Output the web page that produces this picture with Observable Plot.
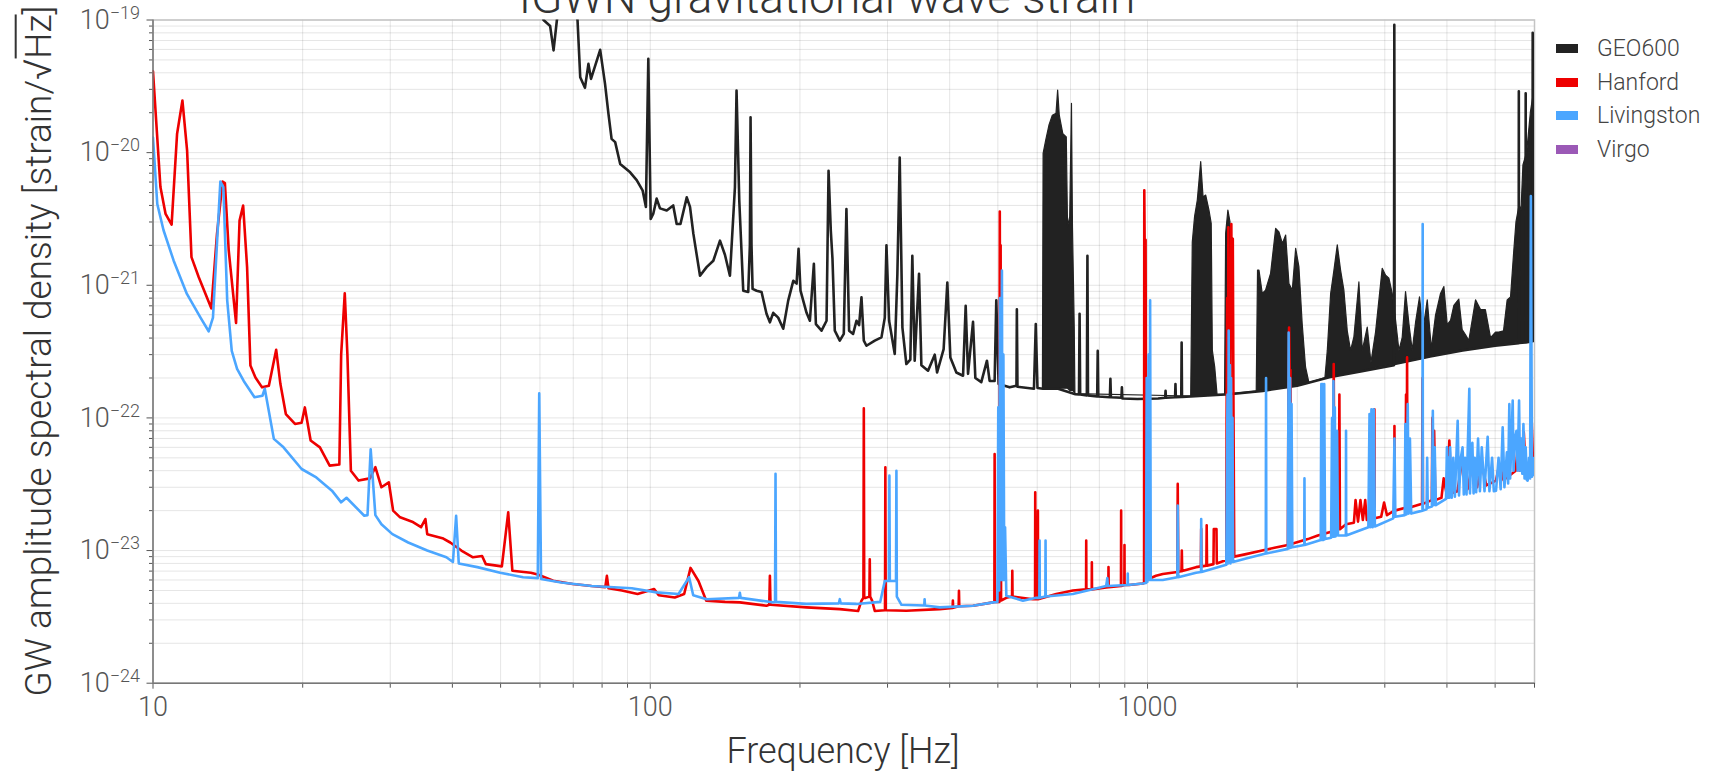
<!DOCTYPE html>
<html>
<head>
<meta charset="utf-8">
<script src="https://cdn.jsdelivr.net/npm/d3@7"></script>
<script src="https://cdn.jsdelivr.net/npm/@observablehq/plot@0.6"></script>
<style>
  html, body { margin: 0; padding: 0; background: #fff; }
  #wrap { position: relative; width: 1713px; height: 777px; overflow: hidden; font-family: Roboto, "Noto Sans", sans-serif; }
  #title { position: absolute; left: 327px; width: 1000px; top: -26px; text-align: center; font-size: 46px; font-weight: 300; color: #333; line-height: 1; white-space: nowrap; }
  #ytitle { position: absolute; left: 38px; top: 351px; transform: translate(-50%, -50%) rotate(-90deg); font-size: 37px; font-weight: 300; color: #333; white-space: nowrap; line-height: 1.2; }
  #xtitle { position: absolute; left: 843px; top: 752px; transform: translate(-50%, -50%); font-size: 36px; font-weight: 300; color: #333; white-space: nowrap; line-height: 1.2; }
  .rad { font-size: 1.05em; }
  .ov { border-top: 2px solid #333; padding-top: 0px; }
  #legend { position: absolute; left: 1556px; top: 32px; font-size: 23px; font-weight: 300; color: #444; }
  #legend .row { height: 33.5px; display: flex; align-items: center; }
  #legend .sw { width: 22px; height: 9px; margin-right: 19px; }
</style>
</head>
<body>
<div id="wrap">
  <div id="chart"></div>
  <div id="title">IGWN gravitational wave strain</div>
  <div id="ytitle">GW amplitude spectral density [strain/<span class="rad">√</span><span class="ov">Hz</span>]</div>
  <div id="xtitle">Frequency [Hz]</div>
  <div id="legend"></div>
</div>
<script>
// ---------------- data (frequency [Hz], amplitude spectral density) ----------------
const detectors = ["GEO600", "Hanford", "Livingston", "Virgo"];
const colors = ["#222222", "#ee0000", "#4ba6ff", "#9b59b6"];

const xMajorTicks = [10, 100, 1000];
const xMinorTicks = [20, 30, 40, 50, 60, 70, 80, 90, 200, 300, 400, 500, 600, 700, 800, 900, 2000, 3000, 4000, 5000, 6000];
const yMajorTicks = [1e-24, 1e-23, 1e-22, 1e-21, 1e-20, 1e-19];
const yMinorMultipliers = [2, 3, 4, 5, 6, 7, 8, 9];

const geoTrace = [
[50,4e-19],[60.5,1.3e-19],[61.0,1.0e-19],[62.9,9.0e-20],[63.9,5.9e-20],[64.9,1.0e-19],[66,1.5e-19],[70,1.5e-19],[71.4,1.0e-19],[72.3,3.7e-20],[73.9,3.08e-20],[75.1,4.67e-20],[76.0,3.6e-20],[79.3,5.96e-20],[81.1,3.3e-20],[82.4,1.96e-20],[83.6,1.27e-20],[85.0,1.2e-20],[87.0,8.2e-21],[91.1,7.1e-21],[93.9,6.2e-21],[96.5,5.2e-21],[98.0,3.9e-21],[99.1,5.1e-20],[100.2,3.16e-21],[101.4,3.46e-21],[103.0,4.5e-21],[104.6,3.8e-21],[107.9,3.66e-21],[111.2,4.0e-21],[113,2.9e-21],[115,2.9e-21],[118.4,4.6e-21],[120.2,3.9e-21],[122.1,2.44e-21],[125.9,1.18e-21],[129.8,1.37e-21],[133.9,1.53e-21],[138.1,2.17e-21],[141.3,1.7e-21],[144.6,1.18e-21],[148,5.5e-21],[149.1,2.94e-20],[151,4.35e-21],[153.8,9.1e-22],[157.4,8.9e-22],[158.6,2e-21],[159.1,1.85e-20],[159.8,2e-21],[160.6,9.4e-22],[163.6,9.1e-22],[167.4,8.9e-22],[171.3,6.1e-22],[174,5.26e-22],[176.7,6.2e-22],[180.8,5.7e-22],[185.1,4.7e-22],[189.4,7.66e-22],[193.9,1.08e-21],[196.9,1.03e-21],[198.7,1.88e-21],[200.5,9.1e-22],[206.2,6.2e-22],[209.4,5.4e-22],[213.3,1.45e-21],[215.3,5.1e-22],[221,4.55e-22],[226.2,5.4e-22],[228.3,7.3e-21],[230.7,2.58e-21],[232.5,1.58e-21],[235,4.55e-22],[240.5,3.83e-22],[245,4.3e-22],[248,3.76e-21],[251.1,4.55e-22],[255.8,4.3e-22],[259.8,5.4e-22],[263,5.0e-22],[265.9,8.1e-22],[268.8,3.83e-22],[272.1,3.5e-22],[282.8,3.83e-22],[291.7,4.05e-22],[296.2,5.7e-22],[298.5,2.0e-21],[302.2,5.4e-22],[310.2,3.03e-22],[314,1.22e-21],[317.4,9.2e-21],[321.4,4.8e-22],[327.3,2.55e-22],[333.4,2.75e-22],[336.5,1.67e-21],[340.2,2.7e-22],[347.1,1.22e-21],[350.9,2.5e-22],[361.9,2.27e-22],[373.3,3.0e-22],[377.4,2.2e-22],[389,3.3e-22],[395.7,1.05e-21],[401.3,2.85e-22],[412.6,2.2e-22],[425.6,2.08e-22],[430.8,7.0e-22],[435.5,2.15e-22],[445.7,5.3e-22],[450.5,2.0e-22],[463.1,1.86e-22],[475.4,2.7e-22],[481.3,1.9e-22],[492.6,1.9e-22],[496.4,7.7e-22],[501.8,1.8e-22],[528,1.7e-22],[545,1.75e-22],[546,6.6e-22],[547.5,1.72e-22],[591,1.66e-22],[596,5.1e-22],[600.7,1.68e-22],[616,1.66e-22],[661,1.66e-22],[716,1.51e-22],[728,1.5e-22],[730,6.1e-22],[732,1.5e-22],[755,1.48e-22],[757,1.67e-21],[759,1.48e-22],[792,1.45e-22],[794,3.2e-22],[796,1.45e-22],[840,1.43e-22],[842,1.97e-22],[844,1.43e-22],[886,1.42e-22],[888,1.7e-22],[890,1.4e-22],[954,1.39e-22],[1050,1.4e-22],[1085,1.42e-22],[1087,1.6e-22],[1089,1.42e-22],[1136,1.43e-22],[1138,1.8e-22],[1140,1.43e-22],[1169,1.44e-22],[1171,3.7e-22],[1173,1.44e-22],[1222,1.45e-22],[1460,1.51e-22],[1705,1.6e-22],[2000,1.75e-22],[2321,2.03e-22],[2700,2.25e-22],[3130,2.5e-22],[3135,9.2e-20],[3140,2.55e-22],[3700,2.9e-22],[4302,3.22e-22],[5000,3.5e-22],[5575,3.66e-22],[5580,2.9e-20],[5585,3.67e-22],[5755,3.7e-22],[5760,2.8e-20],[5765,3.7e-22],[5945,3.78e-22],[5950,8e-20],[5955,3.8e-22],[6000,3.8e-22]
];

// dense line combs: [frequency, lower envelope, upper envelope]
const geoComb = [
[616,1.66e-22,1.66e-22],[618,1.66e-22,9.8e-21],[625.5,1.66e-22,1.23e-20],[635,1.66e-22,1.6e-20],[645,1.66e-22,1.9e-20],[656,1.66e-22,1.96e-20],[661,1.66e-22,2.94e-20],[666,1.66e-22,1.9e-20],[677,1.66e-22,1.38e-20],[688,1.66e-22,1.3e-20],[692,1.66e-22,2.74e-21],[699,1.6e-22,3.26e-21],[704.7,1.6e-22,2.33e-20],[708,1.6e-22,2.7e-21],[713.8,1.55e-22,4.8e-22],[716,1.51e-22,1.51e-22],
[1224,1.45e-22,1.45e-22],[1233,1.45e-22,2.1e-21],[1246,1.45e-22,3.26e-21],[1262,1.45e-22,4.35e-21],[1282,1.46e-22,8.5e-21],[1296,1.46e-22,4.6e-21],[1312,1.47e-22,4.75e-21],[1332,1.47e-22,3.66e-21],[1346,1.48e-22,2.9e-21],[1353,1.48e-22,3.2e-22],[1368,1.48e-22,2.4e-22],[1383,1.49e-22,1.49e-22],
[1432,1.5e-22,1.5e-22],[1439,1.5e-22,2.44e-21],[1454,1.5e-22,3.66e-21],[1468,1.51e-22,3.0e-21],[1474,1.51e-22,1.51e-22],
[1658,1.58e-22,1.58e-22],[1668,1.58e-22,1.29e-21],[1679,1.59e-22,1.29e-21],[1705,1.6e-22,8.6e-22],[1731,1.61e-22,9.1e-22],[1772,1.63e-22,1.22e-21],[1814,1.65e-22,2.66e-21],[1842,1.66e-22,2.5e-21],[1871,1.67e-22,2.05e-21],[1900,1.7e-22,2.37e-21],[1929,1.71e-22,1.02e-21],[1959,1.73e-22,9.1e-22],[1990,1.75e-22,1.88e-21],[2020,1.77e-22,1.37e-21],[2051,1.79e-22,5.1e-22],[2083,1.81e-22,2.4e-22],[2116,1.83e-22,1.83e-22],
[2279,2.0e-22,2.0e-22],[2304,2.02e-22,3.2e-22],[2340,2.04e-22,8.6e-22],[2376,2.06e-22,1.29e-21],[2413,2.08e-22,2.0e-21],[2450,2.1e-22,1.29e-21],[2488,2.12e-22,9.1e-22],[2527,2.14e-22,4.5e-22],[2566,2.16e-22,3.2e-22],[2606,2.18e-22,4.05e-22],[2667,2.22e-22,1.05e-21],[2709,2.25e-22,3.2e-22],[2772,2.3e-22,4.8e-22],[2820,2.33e-22,2.6e-22],[2881,2.37e-22,4.4e-22],[2926,2.4e-22,7.7e-22],[2971,2.42e-22,1.33e-21],[3018,2.45e-22,1.18e-21],[3065,2.48e-22,1.12e-21],[3112,2.5e-22,8.6e-22],[3161,2.55e-22,5.4e-22],[3210,2.58e-22,3.2e-22],[3259,2.6e-22,4.0e-22],[3310,2.63e-22,8.9e-22],[3362,2.66e-22,5.1e-22],[3414,2.7e-22,3.2e-22],[3467,2.73e-22,5.2e-22],[3531,2.77e-22,8.1e-22],[3590,2.8e-22,4.6e-22],[3660,2.85e-22,7.7e-22],[3730,2.9e-22,3.3e-22],[3803,2.95e-22,5.9e-22],[3892,3.0e-22,8.6e-22],[3953,3.04e-22,9.7e-22],[4015,3.08e-22,5.0e-22],[4077,3.12e-22,5.4e-22],[4140,3.15e-22,7.0e-22],[4236,3.2e-22,7.8e-22],[4302,3.22e-22,4.6e-22],[4370,3.25e-22,4.2e-22],[4437,3.28e-22,3.8e-22],[4577,3.34e-22,7.7e-22],[4684,3.38e-22,6.5e-22],[4790,3.42e-22,6.5e-22],[4906,3.46e-22,4.0e-22],[5021,3.5e-22,4.4e-22],[5100,3.53e-22,4.4e-22],[5210,3.57e-22,4.5e-22],[5299,3.6e-22,7.7e-22],[5382,3.62e-22,8.1e-22],[5465,3.64e-22,1.83e-21],[5520,3.65e-22,3.0e-21],[5600,3.67e-22,4.0e-21],[5650,3.68e-22,3.66e-21],[5700,3.7e-22,8e-21],[5800,3.72e-22,1.0e-20],[5900,3.76e-22,2.0e-20],[6000,3.8e-22,3.0e-20]
];

const hanfordTrace = [
[10,4.1e-20],[10.35,5.5e-21],[10.6,3.45e-21],[10.9,2.87e-21],[11.18,1.39e-20],[11.46,2.47e-20],[11.71,1.04e-20],[11.95,1.63e-21],[12.36,1.15e-21],[13.1,6.7e-22],[13.45,2.44e-21],[13.8,6.05e-21],[13.95,5.9e-21],[14.2,1.83e-21],[14.69,5.2e-22],[14.93,3.07e-21],[15.18,3.99e-21],[15.46,1.37e-21],[15.7,2.48e-22],[16.07,2.02e-22],[16.57,1.7e-22],[17.1,1.75e-22],[17.69,3.26e-22],[18.04,1.8e-22],[18.5,1.07e-22],[19.3,9.0e-23],[19.9,9.2e-23],[20.2,1.2e-22],[20.75,6.75e-23],[21.66,6.0e-23],[22.66,4.37e-23],[23.7,4.45e-23],[23.9,3e-22],[24.3,8.7e-22],[24.6,3e-22],[25.0,4.0e-23],[25.9,3.37e-23],[27.3,3.5e-23],[28.0,4.25e-23],[28.8,3.0e-23],[29.8,3.27e-23],[30.4,2.0e-23],[31.4,1.78e-23],[33.2,1.65e-23],[34.6,1.5e-23],[35.3,1.73e-23],[35.6,1.33e-23],[38.2,1.24e-23],[39.6,1.15e-23],[41.7,1.0e-23],[44.0,8.9e-24],[45.9,9.1e-24],[46.7,7.9e-24],[50.3,7.6e-24],[51.8,1.94e-23],[52.8,7.05e-24],[57.5,6.8e-24],[59.4,6.6e-24],[63.8,5.93e-24],[69.8,5.6e-24],[76.2,5.4e-24],[81.2,5.3e-24],[81.8,6.44e-24],[82.4,5.2e-24],[87.7,5.0e-24],[94.3,4.7e-24],[101.8,5.13e-24],[104,4.6e-24],[112,4.43e-24],[117,4.7e-24],[120.5,7.4e-24],[125,5.9e-24],[129.6,4.18e-24],[141.4,4.1e-24],[151.4,4.07e-24],[171.3,3.84e-24],[173.5,3.9e-24],[174,6.45e-24],[174.5,3.9e-24],[206.2,3.73e-24],[240.5,3.62e-24],[261.8,3.5e-24],[265.9,4.19e-24],[268.3,4.4e-24],[268.8,1.18e-22],[269.3,4.4e-24],[271.3,4.4e-24],[275.8,4.5e-24],[276.3,8.6e-24],[276.8,4.5e-24],[279.3,4.19e-24],[282.8,3.5e-24],[296.5,3.55e-24],[297,4.25e-23],[297.5,3.55e-24],[327.3,3.52e-24],[382,3.62e-24],[405.5,3.7e-24],[406,4.2e-24],[406.5,3.7e-24],[417,3.8e-24],[417.6,4.98e-24],[418.2,3.8e-24],[445.6,3.84e-24],[488.8,4.07e-24],[492,4.1e-24],[492.6,5.35e-23],[493.2,4.1e-24],[503.5,4.1e-24],[504.5,3.6e-21],[505.5,1.5e-22],[506.5,2e-21],[507.5,4.2e-24],[520,4.4e-24],[534,4.5e-24],[534.6,7.05e-24],[535.2,4.5e-24],[588,4.3e-24],[594,4.3e-24],[594.5,2.75e-23],[595,4.3e-24],[601.4,4.3e-24],[601.9,2.0e-23],[602.4,4.3e-24],[655.2,4.7e-24],[707.6,5.0e-24],[752.2,5.1e-24],[752.8,1.19e-23],[753.4,5.1e-24],[772.2,5.1e-24],[772.7,8.15e-24],[773.2,5.1e-24],[825.7,5.27e-24],[834,5.3e-24],[834.6,7.5e-24],[835.2,5.3e-24],[884.3,5.4e-24],[884.9,2.0e-23],[885.5,5.4e-24],[898.2,5.5e-24],[898.7,1.1e-23],[899.2,5.5e-24],[919.5,5.5e-24],[978,5.65e-24],[984,5.7e-24],[985,5.2e-21],[988,1.0e-21],[991,2.2e-21],[994,6e-24],
[1040,6.45e-24],[1073,6.65e-24],[1148,6.9e-24],[1150,3.18e-23],[1153,6.9e-24],[1170,7.0e-24],[1172,1.0e-23],[1174,7.0e-24],[1252,7.5e-24],[1280,7.6e-24],[1282,1.46e-23],[1284,7.6e-24],[1313,7.7e-24],[1315,1.55e-23],[1317,7.7e-24],[1357,7.9e-24],[1359,1.45e-23],[1368,1.45e-23],[1376,1.45e-23],[1378,8.0e-24],[1440,8.5e-24],[1442,9e-23],[1446,8e-22],[1450,1e-22],[1454,2.74e-21],[1458,3e-22],[1463,1.5e-21],[1468,2e-22],[1474,2.9e-21],[1478,4e-22],[1484,2.24e-21],[1489,1e-22],[1494,9e-24],[1578,9.4e-24],[1700,1.0e-23],[1800,1.05e-23],[1915,1.1e-23],[1920,1.5e-22],[1926,4.8e-22],[1932,2e-22],[1938,2.3e-22],[1945,1.12e-23],[1990,1.15e-23],[2100,1.22e-23],[2200,1.3e-23],[2360,1.4e-23],[2368,2.55e-22],[2376,1.4e-23],[2425,1.45e-23],[2431,1.5e-22],[2437,1.45e-23],[2507,1.58e-23],[2600,1.62e-23],[2620,2.4e-23],[2650,1.65e-23],[2680,2.4e-23],[2710,1.7e-23],[2740,2.4e-23],[2760,1.7e-23],[2855,1.75e-23],[2859,1.16e-22],[2863,1.75e-23],[2950,1.8e-23],[2990,2.3e-23],[3030,1.85e-23],[3134,2.0e-23],[3137,8.7e-23],[3140,2.0e-23],[3300,2.1e-23],[3310,1.5e-22],[3320,2.1e-23],[3326,2.86e-22],[3332,2.1e-23],[3345,6e-23],[3355,2.1e-23],[3565,2.25e-23],[3572,2e-22],[3580,2.25e-23],[3730,2.4e-23],[3740,1.0e-22],[3750,2.4e-23],[3770,8e-23],[3790,2.4e-23],[3900,2.5e-23],[3940,3.5e-23],[4000,2.6e-23],[4045,6.75e-23],[4080,2.7e-23],[4200,2.8e-23],[4300,5e-23],[4400,2.9e-23],[4500,4.5e-23],[4600,3.0e-23],[4700,4.5e-23],[4800,3.1e-23],[5021,3.37e-23],[5100,4.5e-23],[5200,3.4e-23],[5500,4.0e-23],[5550,6e-23],[5600,4.0e-23],[5710,7.8e-23],[5760,4.1e-23],[5813,4.2e-23],[5880,4.4e-23],[5920,1.0e-22],[5960,4.5e-23],[6000,5e-23]
];

const livingstonTrace = [
[10,1.3e-20],[10.2,4.1e-21],[10.5,2.6e-21],[11.0,1.54e-21],[11.7,8.6e-22],[12.46,5.7e-22],[12.94,4.5e-22],[13.2,5.7e-22],[13.66,6.05e-21],[13.85,5.5e-21],[14.1,7.7e-22],[14.4,3.2e-22],[14.76,2.34e-22],[15.22,1.9e-22],[16.0,1.43e-22],[16.6,1.47e-22],[16.78,1.66e-22],[17.5,6.95e-23],[18.3,6.0e-23],[19.9,4.12e-23],[21.3,3.56e-23],[22.9,2.83e-23],[23.9,2.31e-23],[24.5,2.5e-23],[26.6,1.83e-23],[27.0,1.85e-23],[27.4,5.8e-23],[28.0,1.85e-23],[28.8,1.58e-23],[30.3,1.33e-23],[32.6,1.15e-23],[35.6,1.0e-23],[38.9,8.9e-24],[40.1,8.2e-24],[40.7,1.83e-23],[41.2,8.0e-24],[44.9,7.5e-24],[49.9,6.8e-24],[55.5,6.3e-24],[59.4,6.2e-24],[59.8,1.53e-22],[60.3,6.1e-24],[66.2,5.75e-24],[76.2,5.4e-24],[91.8,5.2e-24],[103,4.84e-24],[114,4.7e-24],[119.7,6.3e-24],[122,4.6e-24],[129.8,4.3e-24],[150.8,4.4e-24],[151.4,4.8e-24],[152,4.4e-24],[176.7,4.07e-24],[178.2,4.1e-24],[178.6,3.79e-23],[179,4.1e-24],[206,3.96e-24],[239.5,4.0e-24],[240.5,4.3e-24],[241.5,4.0e-24],[259.8,3.96e-24],[290,4.1e-24],[296.2,5.9e-24],[302,5.9e-24],[302.6,3.67e-23],[303.2,5.9e-24],[312,5.9e-24],[312.6,4.0e-23],[313.2,4.5e-24],[320,3.9e-24],[355.6,3.85e-24],[356.2,4.3e-24],[356.8,3.85e-24],[382,3.73e-24],[445.6,3.84e-24],[488.8,4.07e-24],[499,4.1e-24],[501,1.2e-22],[503,5e-24],[505,8e-22],[507,6e-24],[509.5,1.29e-21],[511,6e-24],[513,3e-22],[515,6e-24],[517,1.5e-23],[520,4.57e-24],[561.6,4.19e-24],[597.3,4.4e-24],[606,4.4e-24],[606.6,1.19e-23],[607.2,4.4e-24],[623,4.5e-24],[623.6,1.19e-23],[624.2,4.5e-24],[707.6,4.7e-24],[825.7,5.4e-24],[830,6.2e-24],[832,5.4e-24],[912,5.5e-24],[912.5,6.7e-24],[913,5.5e-24],[978,5.65e-24],[993,5.7e-24],[996,2e-22],[999,5.8e-24],[1005,3e-22],[1008,6e-24],[1012,7.7e-22],[1015,6e-24],[1020,6e-24],
[1073,6.0e-24],[1148,6.3e-24],[1150,2.18e-23],[1153,6.3e-24],[1252,6.8e-24],[1281,6.9e-24],[1282,1.73e-23],[1284,6.9e-24],[1440,7.8e-24],[1448,1.5e-22],[1452,8e-24],[1456,4.56e-22],[1460,9e-24],[1464,2.5e-22],[1468,8e-24],[1472,2e-22],[1476,8.2e-24],[1482,1.0e-22],[1486,8.2e-24],[1578,8.7e-24],[1729,9.5e-24],[1731,2.0e-22],[1733,9.5e-24],[1915,1.03e-23],[1922,4.4e-22],[1928,1.04e-23],[1935,2e-22],[1942,1.05e-23],[1948,1.27e-22],[1955,1.06e-23],[2066,1.1e-23],[2068,3.5e-23],[2070,1.1e-23],[2230,1.2e-23],[2236,1.8e-22],[2242,1.2e-23],[2250,1.8e-22],[2258,1.2e-23],[2266,1.8e-22],[2275,1.22e-23],[2340,1.25e-23],[2350,1.0e-22],[2360,1.27e-23],[2365,1.9e-22],[2372,1.27e-23],[2380,1.2e-22],[2390,1.28e-23],[2405,8e-23],[2415,1.3e-23],[2505,1.3e-23],[2507,8.0e-23],[2509,1.3e-23],[2780,1.5e-23],[2795,1.07e-22],[2805,1.5e-23],[2820,1.16e-22],[2835,1.5e-23],[2850,1.16e-22],[2865,1.52e-23],[3120,1.75e-23],[3137,7e-23],[3150,1.8e-23],[3290,1.85e-23],[3300,9e-23],[3315,1.87e-23],[3336,1.27e-22],[3350,1.9e-23],[3370,7e-23],[3390,1.9e-23],[3572,2.0e-23],[3575,2.9e-21],[3578,2.0e-23],[3640,2.05e-23],[3650,5e-23],[3660,2.1e-23],[3730,2.15e-23],[3747,1.13e-22],[3760,2.2e-23],[3780,6e-23],[3800,2.2e-23],[3983,2.45e-23],[4000,6e-23],[4015,2.5e-23],[4030,5e-23],[4045,2.5e-23],[4060,6e-23],[4090,2.5e-23],[4120,5e-23],[4150,2.55e-23],[4204,9.5e-23],[4230,2.6e-23],[4265,5e-23],[4300,6e-23],[4325,2.65e-23],[4350,5e-23],[4380,2.65e-23],[4437,1.66e-22],[4450,2.7e-23],[4475,5.5e-23],[4500,6.5e-23],[4525,2.7e-23],[4550,5e-23],[4580,2.75e-23],[4620,7e-23],[4660,2.8e-23],[4700,6e-23],[4760,2.8e-23],[4830,7.2e-23],[4870,2.8e-23],[4930,5e-23],[4970,2.8e-23],[5021,2.83e-23],[5080,5e-23],[5130,2.9e-23],[5178,8.5e-23],[5220,3e-23],[5280,5.5e-23],[5310,3.2e-23],[5340,1.27e-22],[5360,3.5e-23],[5400,8e-23],[5424,1.35e-22],[5445,4.0e-23],[5480,7e-23],[5520,8e-23],[5550,4e-23],[5586,1.35e-22],[5610,4e-23],[5640,7e-23],[5670,3.8e-23],[5700,9e-23],[5730,3.5e-23],[5760,6e-23],[5790,3.4e-23],[5813,3.37e-23],[5850,5e-23],[5880,3.5e-23],[5900,4.7e-21],[5930,3.6e-23],[5960,5e-23],[6000,3.7e-23]
];

const virgoTrace = [];

// ---------------- chart ----------------
const yMinorTicks = yMajorTicks.slice(0, -1).flatMap(d => yMinorMultipliers.map(k => k * d));
const allX = [...xMajorTicks, ...xMinorTicks];
const allY = [...yMajorTicks, ...yMinorTicks];
const fx = d => d[0], fy = d => d[1];
const LW = 2.6;

const chart = Plot.plot({
  width: 1713, height: 777,
  marginLeft: 152.5, marginRight: 179, marginTop: 19.5, marginBottom: 94.3,
  style: { fontFamily: "Roboto, 'Noto Sans', sans-serif", fontSize: "27px", color: "#555", background: "white" },
  x: { type: "log", domain: [10, 6000] },
  y: { type: "log", domain: [1e-24, 1e-19] },
  marks: [
    Plot.gridX(allX, { stroke: "#000", strokeOpacity: 0.1, strokeWidth: 1 }),
    Plot.gridY(allY, { stroke: "#000", strokeOpacity: 0.1, strokeWidth: 1 }),
    Plot.frame({ stroke: "#c4c4c4", strokeWidth: 1.5 }),
    Plot.areaY(geoComb, { x: fx, y1: d => d[1], y2: d => d[2], fill: colors[0], stroke: colors[0], strokeWidth: 1.2, clip: true }),
    Plot.line(geoTrace, { x: fx, y: fy, stroke: colors[0], strokeWidth: LW, clip: true }),
    Plot.line(hanfordTrace, { x: fx, y: fy, stroke: colors[1], strokeWidth: LW, clip: true }),
    Plot.line(livingstonTrace, { x: fx, y: fy, stroke: colors[2], strokeWidth: LW, clip: true }),
    Plot.line(virgoTrace, { x: fx, y: fy, stroke: colors[3], strokeWidth: LW, clip: true }),
    Plot.axisX(xMajorTicks, { tickSize: 6, tickPadding: 8, tickFormat: d => String(d), fontSize: 27, fontWeight: 300, label: null, stroke: "#555" }),
    Plot.axisX(xMinorTicks, { tickSize: 5, tickFormat: () => "", label: null, stroke: "#555" }),
    Plot.axisY(yMajorTicks, { tickSize: 6, tickPadding: 7, tickFormat: d => "10^" + Math.round(Math.log10(d)), fontSize: 27, fontWeight: 300, label: null, stroke: "#555" }),
    Plot.axisY(yMinorTicks, { tickSize: 3.5, tickFormat: () => "", label: null, stroke: "#555" }),
    Plot.ruleX([10], { stroke: "#777", strokeWidth: 1.5 }),
    Plot.ruleY([1e-24], { stroke: "#777", strokeWidth: 1.5 })
  ]
});
document.getElementById("chart").append(chart);

// superscript exponents on the y tick labels
d3.select(chart).selectAll('g[aria-label="y-axis tick label"] text').each(function () {
  const t = this.textContent;
  if (!t.startsWith("10^")) return;
  const e = t.slice(3).replace("-", "\u2212");
  const s = d3.select(this);
  s.text(null);
  s.append("tspan").text("10");
  s.append("tspan").attr("dy", "-0.55em").attr("font-size", "18px").text(e);
});

// legend
const legend = d3.select("#legend");
detectors.forEach((name, i) => {
  const row = legend.append("div").attr("class", "row");
  row.append("div").attr("class", "sw").style("background", colors[i]);
  row.append("div").text(name);
});
</script>
</body>
</html>
